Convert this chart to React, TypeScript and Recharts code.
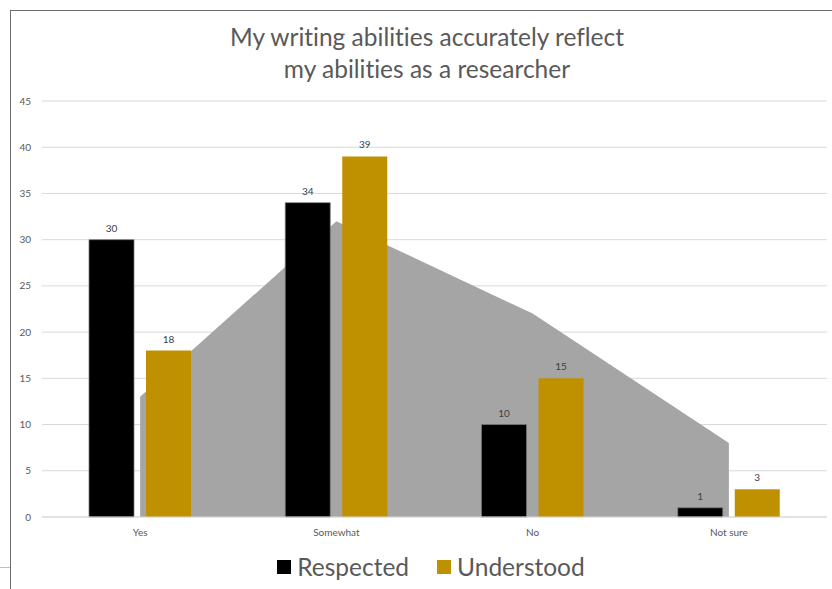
import React from 'react';
import { ComposedChart, Bar, Area, XAxis, YAxis, CartesianGrid, LabelList } from 'recharts';

const categories = ['Yes', 'Somewhat', 'No', 'Not sure'];
const respected = [30, 34, 10, 1];
const understood = [18, 39, 15, 3];
const overall = [13, 32, 22, 8];
const yTicks = [0, 5, 10, 15, 20, 25, 30, 35, 40, 45];

const data = categories.map((c, i) => ({
  cat: c,
  respected: respected[i],
  understood: understood[i],
  overall: overall[i],
}));

const FONT = 'Lato, "Open Sans", sans-serif';
const GOLD = '#BF9000';

const legendItems = [
  { label: 'Respected', color: '#000000' },
  { label: 'Understood', color: GOLD },
];

function LegendRow() {
  return (
    <div style={{ display: 'flex', justifyContent: 'center', gap: 28, fontFamily: FONT, fontSize: 24.5, color: '#595959',
      fontVariantLigatures: 'none', lineHeight: '30px' }}>
      {legendItems.map((it) => (
        <div key={it.label} style={{ display: 'flex', alignItems: 'center', gap: 6 }}>
          <div style={{ width: 14, height: 14, background: it.color }} />
          <span>{it.label}</span>
        </div>
      ))}
    </div>
  );
}

export default function App() {
  return (
    <div style={{ position: 'fixed', left: 0, top: 0, width: 832, height: 589, background: '#fff', overflow: 'hidden' }}>
      {/* frame */}
      <div style={{ position: 'absolute', left: 10, top: 10, right: 0, height: 1, background: '#6e6e6e' }} />
      <div style={{ position: 'absolute', left: 10, top: 10, bottom: 0, width: 1, background: '#6e6e6e' }} />
      <div style={{ position: 'absolute', left: 0, top: 567, width: 10, height: 1, background: '#bdbdbd' }} />

      <div style={{ position: 'absolute', left: 77, top: 21, width: 700, textAlign: 'center',
        fontFamily: FONT, fontSize: 24.5, color: '#595959', lineHeight: '32px', fontVariantLigatures: 'none' }}>
        My writing abilities accurately reflect<br />my abilities as a researcher
      </div>

      <div style={{ position: 'absolute', left: 0, top: 0 }}>
        <ComposedChart width={832} height={589} data={data} margin={{ top: 101, right: 5, bottom: 42, left: 0 }}
          barGap={12} barSize={45}>
          <CartesianGrid vertical={false} stroke="#D9D9D9" />
          <XAxis dataKey="cat" height={30} tickLine={false} tickSize={0} tickMargin={12} axisLine={{ stroke: '#D9D9D9' }}
            tick={{ fill: '#595959', fontSize: 10, fontFamily: FONT }} interval={0} />
          <YAxis width={42} domain={[0, 45]} ticks={yTicks} tickLine={false} tickSize={0} tickMargin={11} axisLine={false}
            tick={{ fill: '#595959', fontSize: 10, fontFamily: FONT }} />
          <Area dataKey="overall" type="linear" fill="#A5A5A5" fillOpacity={1} stroke="none" legendType="none" isAnimationActive={false} />
          <Bar dataKey="respected" name="Respected" fill="#000000" stroke="#7a7a7a" strokeWidth={0.75} isAnimationActive={false}>
            <LabelList dataKey="respected" position="top" offset={8} fill="#404040" fontSize={10} fontFamily={FONT} />
          </Bar>
          <Bar dataKey="understood" name="Understood" fill={GOLD} isAnimationActive={false}>
            <LabelList dataKey="understood" position="top" offset={8} fill="#404040" fontSize={10} fontFamily={FONT} />
          </Bar>
        </ComposedChart>
      </div>

      <div style={{ position: 'absolute', left: 20, width: 822, top: 552 }}>
        <LegendRow />
      </div>
    </div>
  );
}
